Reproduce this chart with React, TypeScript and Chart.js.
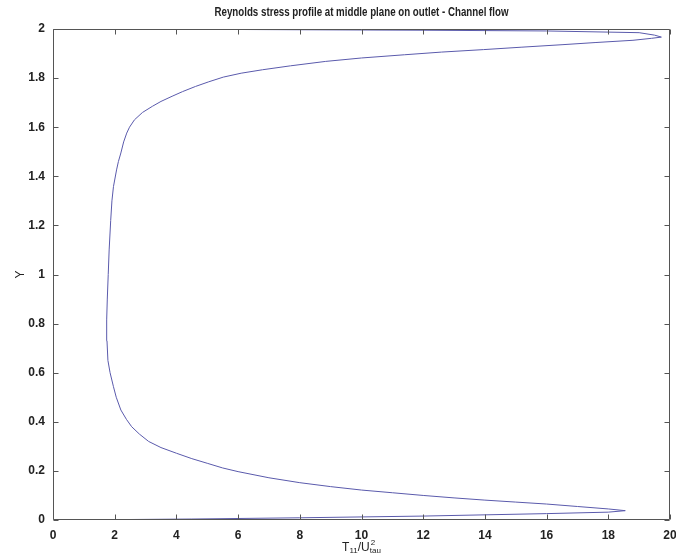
import React, { useEffect, useRef } from 'react';
import { Chart, registerables } from 'chart.js';

Chart.register(...registerables);

// Profile points, ordered by wall-normal coordinate Y
const yValues = [
  0.0, 0.002, 0.004, 0.009, 0.016, 0.026, 0.032, 0.038,
  0.045, 0.055, 0.065, 0.073, 0.081, 0.09, 0.1, 0.111, 0.122, 0.136, 0.152, 0.172, 0.197, 0.212,
  0.231, 0.25, 0.272, 0.295, 0.32, 0.35, 0.38, 0.41, 0.448, 0.5, 0.543, 0.6, 0.65, 0.73, 0.815,
  0.9, 1.0, 1.1, 1.22, 1.3, 1.358, 1.426, 1.46, 1.495, 1.54, 1.576, 1.6, 1.63, 1.66, 1.685,
  1.705, 1.726, 1.745, 1.766, 1.785, 1.804, 1.82, 1.834, 1.85, 1.868, 1.882, 1.895, 1.906,
  1.916, 1.926, 1.936, 1.945, 1.954, 1.962, 1.967,
  1.975, 1.985, 1.992, 1.995, 1.997, 1.999, 2.0,
];
const tValues = [
  1.05, 2.5, 4.5, 8, 12, 16, 18, 18.55,
  18.0, 17.0, 16.0, 15.0, 14.0, 13.0, 12.0, 11.0, 10.0, 9.0, 8.0, 7.0, 6.0, 5.5,
  5.0, 4.5, 4.0, 3.5, 3.1, 2.8, 2.55, 2.38, 2.2, 2.05, 1.96, 1.85, 1.78, 1.75, 1.74,
  1.76, 1.79, 1.82, 1.87, 1.91, 1.96, 2.06, 2.12, 2.2, 2.29, 2.39, 2.48, 2.64, 2.9, 3.22,
  3.5, 3.86, 4.2, 4.62, 5.05, 5.52, 6.1, 6.79, 7.7, 8.84, 10.0, 11.39, 12.6,
  13.95, 15.2, 16.5, 17.6, 18.8, 19.4, 19.72,
  19.5, 19.0, 16, 12, 8, 4, 1.1,
];
const xTicks = [0, 2, 4, 6, 8, 10, 12, 14, 16, 18, 20];
const yTicks = [0, 0.2, 0.4, 0.6, 0.8, 1, 1.2, 1.4, 1.6, 1.8, 2];

const titleText = 'Reynolds stress profile at middle plane on outlet - Channel flow';

const FONT = "'Liberation Sans', Arial, sans-serif";

const framePlugin = {
  id: 'matlabFrame',
  afterDraw(chart: any) {
    const { ctx, chartArea: a, scales } = chart;
    const xs = scales.x;
    const ys = scales.y;
    ctx.save();
    ctx.strokeStyle = '#555';
    ctx.lineWidth = 1;
    const L = Math.round(a.left) + 0.5;
    const R = Math.round(a.right) - 0.5;
    const T = Math.round(a.top) + 0.5;
    const B = Math.round(a.bottom) - 0.5;
    ctx.beginPath();
    ctx.rect(L, T, R - L, B - T);
    const tl = 5;
    xTicks.forEach((v) => {
      const px = Math.round(xs.getPixelForValue(v)) + 0.5;
      ctx.moveTo(px, B);
      ctx.lineTo(px, B - tl);
      ctx.moveTo(px, T);
      ctx.lineTo(px, T + tl);
    });
    yTicks.forEach((v) => {
      const py = Math.round(ys.getPixelForValue(v)) + 0.5;
      ctx.moveTo(L, py);
      ctx.lineTo(L + tl, py);
      ctx.moveTo(R, py);
      ctx.lineTo(R - tl, py);
    });
    ctx.stroke();

    // Title
    const cx = (a.left + a.right) / 2;
    ctx.fillStyle = '#222';
    ctx.font = `bold 12px ${FONT}`;
    ctx.textAlign = 'center';
    ctx.textBaseline = 'middle';
    ctx.fillText(titleText, cx, 13, 294);

    // Y label
    ctx.save();
    ctx.translate(21, (a.top + a.bottom) / 2);
    ctx.rotate(-Math.PI / 2);
    ctx.font = `12px ${FONT}`;
    ctx.fillText('Y', 0, 0);
    ctx.restore();

    // X label: T_11 / U^2_tau
    const base = 551;
    ctx.textAlign = 'left';
    ctx.textBaseline = 'alphabetic';
    const big = `12px ${FONT}`;
    const small = `8px ${FONT}`;
    const parts: [string, string, number][] = [
      ['T', big, 0],
      ['11', small, 2],
      ['/U', big, 0],
    ];
    let total = 0;
    parts.forEach(([t, f]) => {
      ctx.font = f;
      total += ctx.measureText(t).width;
    });
    ctx.font = small;
    const supW = Math.max(ctx.measureText('2').width, ctx.measureText('tau').width);
    total += supW;
    let x = cx - total / 2;
    parts.forEach(([t, f, dy]) => {
      ctx.font = f;
      ctx.fillText(t, x, base + dy);
      x += ctx.measureText(t).width;
    });
    ctx.font = small;
    ctx.fillText('2', x + 1, base - 6);
    ctx.fillText('tau', x, base + 2);
    ctx.restore();
  },
};

export default function App() {
  const ref = useRef<HTMLCanvasElement | null>(null);

  useEffect(() => {
    if (!ref.current) return;
    const data = tValues.map((t, i) => ({ x: t, y: yValues[i] }));
    const chart = new Chart(ref.current, {
      type: 'scatter',
      data: {
        datasets: [
          {
            data,
            showLine: true,
            borderColor: '#5a5aac',
            backgroundColor: '#5a5aac',
            borderWidth: 1,
            pointRadius: 0,
            tension: 0,
          },
        ],
      },
      options: {
        animation: false,
        responsive: true,
        maintainAspectRatio: false,
        layout: { padding: { left: 0, right: 6, top: 29, bottom: 0 } },
        plugins: {
          legend: { display: false },
          title: { display: false },
          tooltip: { enabled: false },
        },
        scales: {
          x: {
            type: 'linear',
            min: 0,
            max: 20,
            grid: { display: false, drawTicks: false },
            border: { display: false },
            afterBuildTicks: (s: any) => {
              s.ticks = xTicks.map((v) => ({ value: v }));
            },
            afterFit: (s: any) => {
              s.height = 35;
              s.paddingLeft = 0;
              s.paddingRight = 0;
            },
            ticks: {
              padding: 8,
              maxRotation: 0,
              autoSkip: false,
              color: '#222',
              font: { family: FONT, size: 12, weight: 'bold' },
              callback: (v: any) => String(v),
            },
          },
          y: {
            type: 'linear',
            min: 0,
            max: 2,
            grid: { display: false, drawTicks: false },
            border: { display: false },
            afterBuildTicks: (s: any) => {
              s.ticks = yTicks.map((v) => ({ value: v }));
            },
            afterFit: (s: any) => {
              s.width = 53;
              s.paddingTop = 0;
              s.paddingBottom = 0;
            },
            ticks: {
              padding: 8,
              autoSkip: false,
              color: '#222',
              font: { family: FONT, size: 12, weight: 'bold' },
              callback: (v: any) => String(v),
            },
          },
        },
      },
      plugins: [framePlugin],
    });
    return () => chart.destroy();
  }, []);

  return (
    <div style={{ position: 'absolute', left: 0, top: 0, width: 676, height: 555, background: '#fff' }}>
      <canvas ref={ref} />
    </div>
  );
}
